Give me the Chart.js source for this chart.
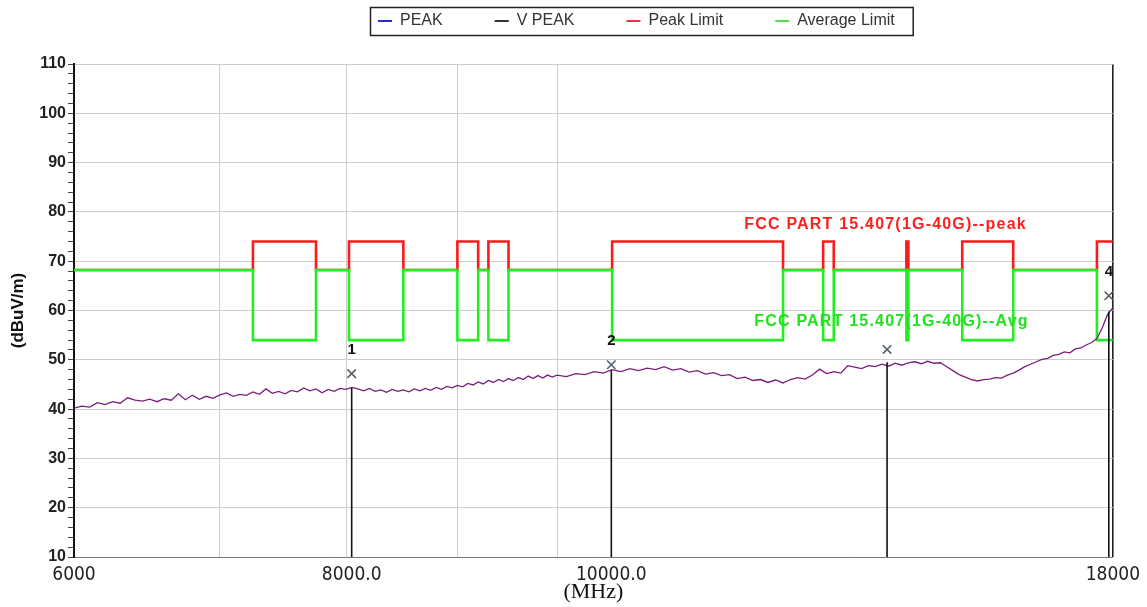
<!DOCTYPE html>
<html><head><meta charset="utf-8">
<script src="https://cdn.jsdelivr.net/npm/chart.js@4/dist/chart.umd.min.js"></script>
<style>html,body{margin:0;padding:0;background:#fff}#wrap{width:1147px;height:607px}</style>
</head><body><div id="wrap"><canvas id="c" width="1147" height="607"></canvas></div>
<script>
// ---------- data ----------
const seriesNames = ['PEAK', 'V PEAK', 'Peak Limit', 'Average Limit'];
const legendColors = ['#2b2bd0', '#333333', '#f03050', '#50e050'];

// PEAK trace (MHz, dBuV/m)
const traceFreq = [
  6000,6050,6100,6150,6200,6250,6300,6350,6400,6450,
  6500,6550,6600,6650,6700,6750,6800,6850,6900,6950,
  7000,7050,7100,7150,7200,7250,7300,7350,7400,7450,
  7500,7550,7600,7650,7700,7750,7800,7850,7900,7950,
  8000,8050,8100,8150,8200,8250,8300,8350,8400,8450,
  8500,8550,8600,8650,8700,8750,8800,8850,8900,8950,
  9000,9050,9100,9150,9200,9250,9300,9350,9400,9450,
  9500,9550,9600,9650,9700,9750,9800,9850,9900,9950,
  10000,
  10100,10200,10300,10400,10500,10600,10700,10800,10900,11000,
  11100,11200,11300,11400,11500,11600,11700,11800,11900,12000,
  12100,12200,12300,12400,12500,12600,12700,12800,12900,13000,
  13100,13200,13300,13400,13500,13600,13700,13800,13900,14000,
  14100,14200,14300,14400,14500,14600,14700,14800,14900,15000,
  15100,15200,15300,15400,15500,15600,15700,15800,15900,16000,
  16100,16200,16300,16400,16500,16600,16700,16800,16900,17000,
  17100,17200,17300,17400,17500,17600,17700,17800,17900,18000
];
const traceLevel = [
  40.2,40.6,40.4,41.3,40.9,41.5,41.2,42.3,41.8,41.6,
  42.0,41.5,42.1,41.8,43.1,41.9,42.8,42.0,42.6,42.2,
  42.9,43.3,42.6,43.0,42.8,43.5,43.0,44.1,43.2,43.6,
  43.1,43.8,43.5,44.3,43.7,44.1,43.3,44.0,43.6,44.2,
  44.0,44.4,44.1,43.7,44.2,43.6,43.9,43.4,44.0,43.6,
  43.9,43.5,44.1,43.7,44.2,43.8,44.4,44.0,44.6,44.3,
  44.8,44.5,45.2,44.9,45.5,45.1,45.8,45.4,46.0,45.6,
  46.2,45.8,46.4,46.0,46.7,46.2,46.8,46.3,46.9,46.5,
  46.9,
  46.6,47.2,47.0,47.6,47.3,48.0,47.6,48.2,47.8,48.3,
  48.0,48.6,47.9,48.2,47.5,47.8,47.1,47.4,46.8,47.0,
  46.2,46.5,45.8,46.0,45.4,45.9,45.3,46.0,46.4,46.1,
  46.9,48.1,47.2,47.6,47.3,48.8,48.5,48.2,48.8,48.6,
  49.1,48.7,49.3,48.9,49.4,49.6,49.2,49.7,49.3,49.4,
  48.6,47.8,47.0,46.5,46.0,45.7,46.0,46.1,46.4,46.3,
  46.9,47.3,47.9,48.6,49.1,49.6,50.1,50.3,50.9,51.1,
  51.6,51.4,52.2,52.4,53.0,53.5,54.3,56.5,59.2,60.5
];

// Limit lines: value holds from each edge to the next
const limitFreq = [6000,7250,7750,8025,8500,9000,9200,9300,9500,10600,12700,13250,13400,14470,14500,15350,16200,17700,18000];
const peakLimit = [68.2,74,68.2,74,68.2,74,68.2,74,68.2,74,68.2,74,68.2,74,68.2,74,68.2,74,74];
const avgLimit  = [68.2,54,68.2,54,68.2,54,68.2,54,68.2,54,68.2,54,68.2,54,68.2,54,68.2,54,54];

// Markers (V PEAK)
const markerFreq   = [8048, 10591, 14177, 17924];
const markerTrace  = [44.3, 47.9, 49.5, 59.8];
const markerPeak   = [47.2, 49.0, 52.1, 63.0];
const markerLabels = ['1', '2', '', '4'];

// Axes
const xTickValues = [6000, 7000, 8000, 8048, 9000, 10000, 10591, 18000];
const xGridValues = [7000, 8000, 9000, 10000];
const xTickLabels = {6000: '6000', 8048: '8000.0', 10591: '10000.0', 18000: '18000'};
const yMin = 10, yMax = 110, yMajor = 10, yMinor = 2;

// Limit annotations
const noteText  = ['FCC PART 15.407(1G-40G)--peak', 'FCC PART 15.407(1G-40G)--Avg'];
const noteFreq  = [12190, 12320];
const noteLevel = [77.5, 57.7];
const noteColor = ['#ff2020', '#22e022'];

// ---------- chart ----------
const SANS = '"Liberation Sans", Arial, sans-serif';
const LEG_PAD = 52, LEG_ITEM_TOP = 13, LEG_FIRST_X = 378, LEG_AREA = 64;

const datasets = [
  { label: seriesNames[0], data: traceFreq.map((f, i) => ({x: f, y: traceLevel[i]})),
    borderColor: '#7a1e7c', borderWidth: 1.3, pointRadius: 0, order: 2 },
  { label: seriesNames[1], data: markerFreq.map((f, i) => ({x: f, y: markerPeak[i]})),
    showLine: false, pointStyle: 'crossRot', pointRadius: 6, borderColor: '#55606a', borderWidth: 1.6, order: 0 },
  { label: seriesNames[2], data: limitFreq.map((f, i) => ({x: f, y: peakLimit[i]})),
    borderColor: '#ff1a1a', borderWidth: 2.6, pointRadius: 0, stepped: 'before', order: 5 },
  { label: seriesNames[3], data: limitFreq.map((f, i) => ({x: f, y: avgLimit[i]})),
    borderColor: '#22ee22', borderWidth: 2.6, pointRadius: 0, stepped: 'before', order: 4 }
];
markerFreq.forEach((f, i) => {
  datasets.push({ label: 'marker' + (i + 1), data: [{x: f, y: markerTrace[i]}, {x: f, y: yMin}],
    borderColor: '#111', borderWidth: 1.6, pointRadius: 0, order: 1 });
});

const layoutPlugin = {
  id: 'legendLayout',
  beforeLayout(chart) {
    const lg = chart.legend;
    if (lg && !lg._patched) {
      const fit = lg.fit;
      lg.fit = function () { fit.call(this); this.height = LEG_AREA; };
      lg._patched = true;
    }
  },
  afterLayout(chart) {
    const lg = chart.legend;
    if (!lg) return;
    lg.top = LEG_ITEM_TOP - LEG_PAD;
    lg.bottom = LEG_AREA;
    const start = (lg.left + LEG_PAD + lg.right - lg.lineWidths[0]) / 2;
    const shift = LEG_FIRST_X - start;
    lg.left += shift; lg.right += shift;
  },
  afterDraw(chart) {
    const lg = chart.legend, ctx = chart.ctx;
    if (!lg || !lg.legendHitBoxes || !lg.legendHitBoxes.length) return;
    const hb = lg.legendHitBoxes;
    const l = hb[0].left - 8, r = hb[hb.length - 1].left + hb[hb.length - 1].width + 18;
    ctx.save();
    ctx.strokeStyle = '#222'; ctx.lineWidth = 1.5;
    ctx.strokeRect(l + 0.5, 7.5, r - l, 28);
    ctx.restore();
  }
};

const textPlugin = {
  id: 'texts',
  afterDatasetsDraw(chart) {
    const {ctx, scales: {x, y}} = chart;
    ctx.save();
    ctx.textAlign = 'center'; ctx.textBaseline = 'middle';
    ctx.font = 'bold 15px ' + SANS; ctx.fillStyle = '#111';
    markerFreq.forEach((f, i) => {
      if (markerLabels[i]) ctx.fillText(markerLabels[i], x.getPixelForValue(f), y.getPixelForValue(markerPeak[i]) - 24);
    });
    ctx.textAlign = 'left';
    ctx.font = 'bold 16px ' + SANS;
    if ('letterSpacing' in ctx) ctx.letterSpacing = '1.2px';
    noteText.forEach((t, i) => {
      ctx.fillStyle = noteColor[i];
      ctx.fillText(t, x.getPixelForValue(noteFreq[i]), y.getPixelForValue(noteLevel[i]));
    });
    ctx.restore();
  }
};

new Chart(document.getElementById('c'), {
  type: 'line',
  data: { datasets },
  plugins: [layoutPlugin, textPlugin],
  options: {
    responsive: false, animation: false, devicePixelRatio: 1,
    layout: { padding: { left: 0, right: 30, top: 0, bottom: 0 } },
    plugins: {
      tooltip: { enabled: false },
      legend: {
        position: 'top',
        labels: {
          padding: LEG_PAD, usePointStyle: true, pointStyleWidth: 14,
          font: { size: 16, family: SANS }, color: '#333',
          generateLabels: () => seriesNames.map((n, i) => ({
            text: n, fillStyle: legendColors[i], strokeStyle: legendColors[i], lineWidth: 2,
            pointStyle: 'line', fontColor: '#333', hidden: false, datasetIndex: i
          }))
        }
      }
    },
    scales: {
      x: {
        type: 'logarithmic', min: 6000, max: 18000,
        afterBuildTicks: (s) => { s.ticks = xTickValues.map(v => ({value: v})); },
        afterFit: (s) => { s.height = 50; },
        ticks: {
          autoSkip: false, maxRotation: 0, minRotation: 0, padding: 7,
          font: { size: 19, family: '"Liberation Sans Narrow", "DejaVu Sans Condensed", "Liberation Sans", sans-serif' },
          color: '#222',
          callback: (v) => xTickLabels[v] || ''
        },
        grid: {
          drawTicks: false,
          color: (c) => {
            const v = c.tick && c.tick.value;
            if (v === 18000) return '#222';
            return xGridValues.includes(v) ? '#cdcdcd' : 'rgba(0,0,0,0)';
          },
          lineWidth: (c) => (c.tick && c.tick.value === 18000) ? 1.6 : 1
        },
        border: { display: true, color: '#777', width: 1 },
        title: { display: true, text: '(MHz)', color: '#111', padding: { top: 0, bottom: 2 },
          font: { size: 22, family: '"Liberation Serif", "DejaVu Serif", serif' } }
      },
      y: {
        type: 'linear', min: yMin, max: yMax,
        afterFit: (s) => { s.width = 74; },
        ticks: {
          stepSize: yMinor, autoSkip: false, padding: 2, color: '#222',
          font: { size: 16, weight: 'bold', family: SANS },
          callback: (v) => (v % yMajor === 0 ? v : '')
        },
        grid: {
          drawTicks: true, tickLength: 6,
          color: (c) => (c.tick && c.tick.value % yMajor === 0) ? '#cdcdcd' : 'rgba(0,0,0,0)',
          tickColor: '#444'
        },
        border: { display: true, color: '#111', width: 2 },
        title: { display: true, text: '(dBuV/m)', color: '#111', padding: { top: 8, bottom: 0 },
          font: { size: 17, weight: 'bold', family: SANS } }
      }
    }
  }
});
</script></body></html>
